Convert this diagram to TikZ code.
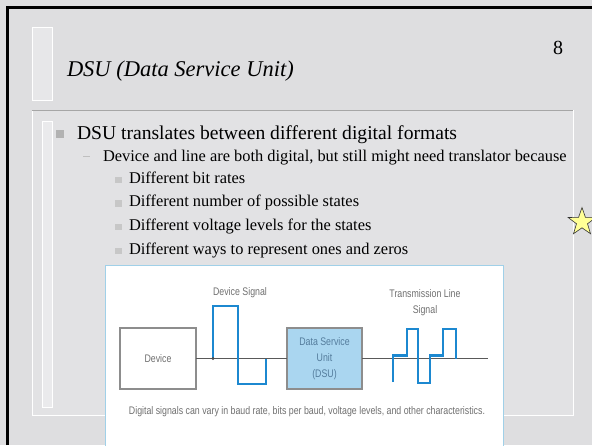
\documentclass[tikz,border=0pt]{standalone}
\usepackage{fontspec}
\setmainfont{Liberation Serif}
\newfontfamily\figfont[FakeStretch=0.8]{Liberation Sans}
\usetikzlibrary{shapes.geometric}

\definecolor{marble}{RGB}{222,222,224}
\definecolor{sigblue}{RGB}{28,136,208}
\definecolor{dsufill}{RGB}{170,214,240}
\definecolor{figgrey}{RGB}{112,112,112}
\definecolor{dsutext}{RGB}{84,124,156}
\definecolor{imgframe}{RGB}{160,208,232}
\definecolor{starfill}{RGB}{255,255,150}

\begin{document}
\begin{tikzpicture}[x=1pt, y=-1pt,
  every node/.style={inner sep=0pt, outer sep=0pt},
  slidetitle/.style={font=\fontsize{22.5}{23}\selectfont\itshape, anchor=base west},
  lvlone/.style={font=\fontsize{19.6}{20}\selectfont, anchor=base west},
  lvltwo/.style={font=\fontsize{16.4}{17}\selectfont, anchor=base west},
  figlabel/.style={font=\figfont\fontsize{11}{16}\selectfont, text=figgrey, align=center},
  figbox/.style={draw=figgrey!80, line width=1.3pt, minimum width=76pt, minimum height=61pt},
  sigline/.style={draw=black!65, line width=1.6pt},
  sigwave/.style={draw=sigblue, line width=2.6pt, line join=miter}]
  \useasboundingbox (0,0) rectangle (592,445);
  \clip (0,0) rectangle (592,445);
  % marble slide background
  \fill[marble] (0,0) rectangle (592,445);
  \draw[line width=3pt] (7.5,445) -- (7.5,7.5) -- (592,7.5);
  % frames of the layout
  \draw[white, line width=1pt, fill=white, fill opacity=0.3] (32,27) rectangle (52,100);
  \draw[white, line width=0.8pt, fill=white, fill opacity=0.15] (32,110) rectangle (573,415);
  \draw[black!35, line width=0.8pt] (32,110) -- (573,110);
  \draw[white, line width=0.8pt, fill=white, fill opacity=0.3] (42,121) rectangle (52,407);
  % title and page number
  \node[slidetitle] (title) at (67,76) {DSU (Data Service Unit)};
  \node[font=\fontsize{20}{20}\selectfont, anchor=base west] (pagenum) at (553,54) {8};
  % bullets
  \fill[black!30] (56,130) rectangle (63.5,137.5);
  \node[lvlone] (first) at (77,139) {DSU translates between different digital formats};
  \draw[black!25, line width=0.8pt] (83,156) -- (90,156);
  \node[lvltwo] (second) at (103,161) {Device and line are both digital, but still might need translator because};
  \foreach \txt [count=\i] in {Different bit rates, Different number of possible states,
      Different voltage levels for the states, Different ways to represent ones and zeros} {
    \fill[black!22] (115,{183+(\i-1)*23.7-6.5}) rectangle (121.5,{183+(\i-1)*23.7});
    \node[lvltwo] (sub\i) at (129,{183+(\i-1)*23.7}) {\txt};
  }
  % star
  \node[star, star points=5, star point ratio=2.5, minimum size=29pt, fill=starfill,
    draw=black!80, line width=0.6pt] (star) at (582,222) {};
  % picture of the DSU
  \fill[white] (105,265) rectangle (503,450);
  \draw[imgframe, line width=1pt] (105,450) -- (105,265) -- (503,265) -- (503,450);
  \node[figbox, label={[figlabel]center:Device}] (device) at (158,358.5) {};
  \node[figbox, minimum width=75pt, fill=dsufill] (dsu) at (324.5,358.5) {};
  \node[figlabel, text=dsutext] (dsutxt) at (dsu.center) {Data Service\\Unit\\(DSU)};
  \coordinate (lineend) at (488,358.5);
  \draw[sigline] (device) -- (dsu);
  \draw[sigline] (dsu) -- (lineend);
  \draw[sigwave] (213,358.5) |- (238,306) |- (266,384) -- (266,358.5);
  \fill[black!70] (213,358.5) circle (1.6pt);
  \draw[sigwave] (393,382) |- (407,355.5) |- (418,329) |- (430,383) |- (443,355.5) |- (456,329) -- (456,358.5);
  \node[figlabel] (devsig) at (240,293) {Device Signal};
  \node[figlabel] (linesig) at (425,303) {Transmission Line\\Signal};
  \node[figlabel] (caption) at (307,412) {Digital signals can vary in baud rate, bits per baud, voltage levels, and other characteristics.};
\end{tikzpicture}
\end{document}
